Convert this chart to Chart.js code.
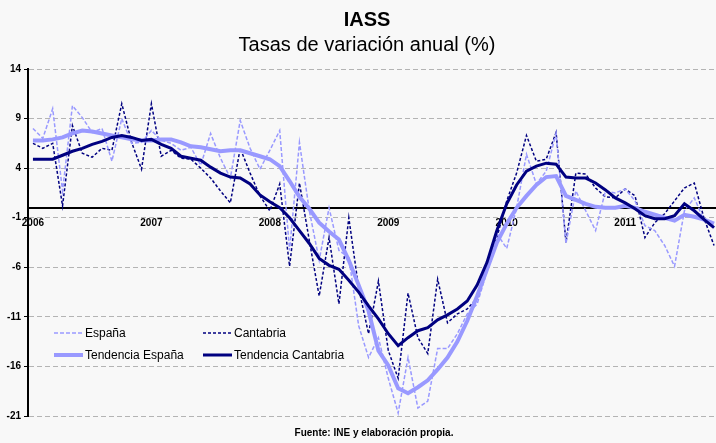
<!DOCTYPE html>
<html>
<head>
<meta charset="utf-8">
<script src="https://cdn.jsdelivr.net/npm/chart.js@4"></script>
<style>
  html, body { margin: 0; padding: 0; background: #f8f8f8; overflow: hidden; }
</style>
</head>
<body>
<canvas id="myChart" width="716" height="443"></canvas>
<script>
// datos mensuales ene-2006 .. oct-2011
const years = ["2006", "2007", "2008", "2009", "2010", "2011"];
const yTicks = [14, 9, 4, -1, -6, -11, -16, -21];

const espana = [
  8.0, 7.0, 10.0, 1.7, 10.3, 9.1, 7.6, 8.0, 4.7, 9.0, 6.5, 6.6,
  7.8, 6.8, 6.5, 5.8, 6.1, 4.3, 7.5, 5.0, 3.0, 8.8, 6.0, 3.9,
  5.8, 7.8, -4.3, 6.6, -0.3, -5.3, 0.0, -4.3, -5.0, -11.9, -15.1, -13.1,
  -17.2, -20.7, -15.1, -20.2, -19.5, -14.2, -14.2, -12.7, -10.7, -9.7, -6.4, -2.6,
  -4.1, 0.0, 5.4, 2.4, 3.7, 7.5, -3.6, 1.7, -0.3, -2.3, 1.7, 1.5,
  1.9, 0.7, -1.8, -2.3, -3.8, -5.9, -0.3, 1.0, -1.3, -2.0
];
const cantabria = [
  6.5, 6.0, 6.5, 0.2, 8.3, 5.5, 5.1, 6.0, 5.8, 10.5, 6.6, 3.9,
  10.5, 5.2, 5.8, 5.0, 4.9, 4.0, 3.0, 1.7, 0.5, 6.0, 3.5, 1.2,
  -0.3, 2.4, -5.9, 2.5, -3.3, -8.9, -3.0, -9.7, -1.0, -8.1, -12.7, -7.4,
  -14.4, -17.2, -8.6, -13.1, -14.7, -7.2, -11.6, -10.7, -10.2, -9.1, -6.1, -3.0,
  0.7, 3.5, 7.3, 4.7, 4.9, 7.6, -3.5, 3.5, 3.4, 2.0, 1.1, 1.0,
  1.9, 1.2, -3.0, -1.5, -0.6, 0.7, 2.0, 2.5, -1.1, -3.8
];
const tendEspana = [
  6.8, 6.8, 6.9, 7.1, 7.5, 7.8, 7.7, 7.5, 7.3, 7.1, 6.9, 6.8,
  6.8, 6.9, 6.9, 6.6, 6.2, 6.1, 5.9, 5.7, 5.8, 5.8, 5.5, 5.2,
  4.9, 4.2, 2.7, 1.1, -0.1, -1.5, -2.4, -3.2, -5.3, -7.8, -10.4, -14.4,
  -15.9, -18.2, -18.7, -18.1, -17.4, -16.3, -15.1, -13.5, -11.4, -8.9, -6.2, -3.5,
  -1.6, 0.0, 1.2, 2.3, 3.1, 3.2, 1.2, 0.8, 0.4, 0.1, 0.0, 0.0,
  0.2, 0.0, -0.4, -0.7, -1.0, -1.3, -0.7, -0.9, -1.2, -1.6
];
const tendCantabria = [
  4.9, 4.9, 4.9, 5.3, 5.7, 6.0, 6.4, 6.7, 7.1, 7.3, 7.1, 6.8,
  6.9, 6.4, 6.0, 5.2, 5.0, 4.8, 4.1, 3.5, 3.1, 3.0, 2.4, 1.3,
  0.6, 0.0, -1.0, -2.3, -3.6, -5.1, -5.8, -6.2, -7.3, -8.5, -9.9, -11.2,
  -12.7, -13.9, -13.1, -12.4, -12.1, -11.3, -10.8, -10.2, -9.4, -7.8, -5.5, -2.3,
  0.4, 2.3, 3.7, 4.2, 4.5, 4.4, 3.1, 3.0, 3.0, 2.5, 1.8, 1.0,
  0.5, -0.1, -0.8, -1.1, -1.1, -0.8, 0.4, -0.3, -1.2, -2.0
];

const lightBlue = "#9999ff";
const navy = "#000080";

function toPoints(arr) {
  return arr.map((v, i) => ({ x: i, y: v }));
}

const datasets = [
  { label: "España", data: toPoints(espana), borderColor: lightBlue, borderWidth: 1.5, borderDash: [4, 2], order: 2 },
  { label: "Cantabria", data: toPoints(cantabria), borderColor: navy, borderWidth: 1.5, borderDash: [3, 2], order: 2 },
  { label: "Tendencia España", data: toPoints(tendEspana), borderColor: lightBlue, borderWidth: 4, order: 1 },
  { label: "Tendencia Cantabria", data: toPoints(tendCantabria), borderColor: navy, borderWidth: 3, order: 0 },
];

// titulos, leyenda y fuente dibujados a mano
const decor = {
  id: "decor",
  afterDraw(chart) {
    const ctx = chart.ctx;
    const area = chart.chartArea;
    ctx.save();
    ctx.fillStyle = "#000";
    ctx.textAlign = "center";
    ctx.textBaseline = "middle";
    ctx.font = "bold 20px 'Liberation Sans', Arial, sans-serif";
    ctx.fillText("IASS", 367, 20);
    ctx.font = "20px 'Liberation Sans', Arial, sans-serif";
    ctx.fillText("Tasas de variación anual (%)", 367, 45);
    ctx.font = "bold 10px 'Liberation Sans', Arial, sans-serif";
    ctx.fillText("Fuente: INE y elaboración propia.", (area.left + 720) / 2, 433);

    const items = [
      [0, 54, 333], [1, 203, 333],
      [2, 54, 355], [3, 203, 355],
    ];
    ctx.textAlign = "left";
    ctx.font = "12px 'Liberation Sans', Arial, sans-serif";
    items.forEach(([idx, x, y]) => {
      const ds = chart.data.datasets[idx];
      ctx.strokeStyle = ds.borderColor;
      ctx.lineWidth = ds.borderWidth;
      ctx.setLineDash(ds.borderDash || []);
      ctx.beginPath();
      ctx.moveTo(x, y);
      ctx.lineTo(x + 29, y);
      ctx.stroke();
      ctx.setLineDash([]);
      ctx.fillStyle = "#000";
      ctx.fillText(ds.label, x + 31, y + 1);
    });
    ctx.restore();
  },
};

const config = {
  type: "line",
  data: { datasets },
  options: {
    responsive: false,
    animation: false,
    layout: { padding: { top: 69, bottom: 27, left: 0, right: 0 } },
    elements: {
      point: { radius: 0 },
      line: { tension: 0, fill: false },
    },
    plugins: {
      legend: { display: false },
      title: { display: false },
      tooltip: { enabled: false },
    },
    scales: {
      x: {
        type: "linear",
        min: -0.5,
        max: 69.2,
        position: { y: 0 },
        afterBuildTicks: (axis) => {
          axis.ticks = years.map((y, k) => ({ value: k * 12 }));
        },
        grid: { display: false, drawTicks: false },
        border: { display: true, color: "#000", width: 2 },
        ticks: {
          autoSkip: false,
          maxRotation: 0,
          padding: 9,
          color: "#000",
          font: { family: "'Liberation Sans', Arial, sans-serif", size: 10, weight: "bold" },
          callback: (v) => years[Math.round(v / 12)],
        },
      },
      y: {
        min: -21,
        max: 14,
        afterBuildTicks: (axis) => {
          axis.ticks = yTicks.map((v) => ({ value: v }));
        },
        afterFit: (axis) => {
          axis.width = 28;
        },
        grid: { color: "#b4b4b4", lineWidth: 1, tickLength: 4, tickColor: "#000" },
        border: { display: true, color: "#000", width: 2, dash: [5, 3] },
        ticks: {
          padding: 3,
          color: "#000",
          font: { family: "'Liberation Sans', Arial, sans-serif", size: 10, weight: "bold" },
        },
      },
    },
  },
  plugins: [decor],
};

new Chart(document.getElementById("myChart"), config);
</script>
</body>
</html>
